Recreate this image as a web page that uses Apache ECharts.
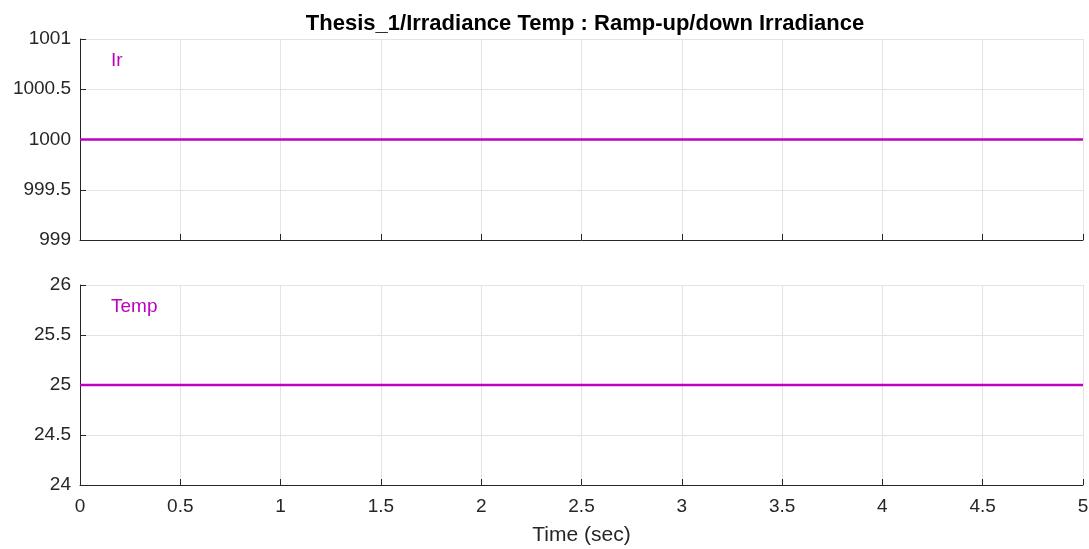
<!DOCTYPE html>
<html>
<head>
<meta charset="utf-8">
<script src="https://cdn.jsdelivr.net/npm/echarts@6/dist/echarts.min.js"></script>
<style>
html,body{margin:0;padding:0;background:#fff;}
#chart{width:1089px;height:549px;}
</style>
</head>
<body>
<div id="chart"></div>
<script>
const timeValues = [0, 5];
const irradiance = [1000, 1000];
const temperature = [25, 25];
const titleText = 'Thesis_1/Irradiance Temp : Ramp-up/down Irradiance';
const seriesNames = ['Ir', 'Temp'];
const xAxisName = 'Time (sec)';

const FONT = "'Liberation Sans', Arial, Helvetica, sans-serif";
const LINE = '#bf00bf';
const AX = '#262626';
const GRIDC = '#e3e3e3';

function fmt(v) { return String(Math.round(v * 10) / 10); }

function xAxis(idx, showLabel) {
  return {
    type: 'value', gridIndex: idx, min: 0, max: 5, interval: 0.5,
    axisLine: { show: true, onZero: false, lineStyle: { color: AX, width: 1 } },
    axisTick: { show: true, inside: true, length: 6, lineStyle: { color: AX } },
    axisLabel: { show: showLabel, color: AX, fontFamily: FONT, fontSize: 19, margin: 12, formatter: fmt },
    splitLine: { show: true, lineStyle: { color: GRIDC, width: 1 } },
    name: showLabel ? xAxisName : '',
    nameLocation: 'middle', nameGap: 40,
    nameTextStyle: { color: AX, fontFamily: FONT, fontSize: 21 }
  };
}
function yAxis(idx, mn, mx) {
  return {
    type: 'value', gridIndex: idx, min: mn, max: mx, interval: 0.5,
    axisLine: { show: true, onZero: false, lineStyle: { color: AX, width: 1 } },
    axisTick: { show: true, inside: true, length: 6, lineStyle: { color: AX } },
    axisLabel: { color: AX, fontFamily: FONT, fontSize: 19, margin: 9, formatter: fmt },
    splitLine: { show: true, lineStyle: { color: GRIDC, width: 1 } }
  };
}

const chart = echarts.init(document.getElementById('chart'), null, { renderer: 'canvas' });
chart.setOption({
  backgroundColor: '#fff',
  animation: false,
  title: {
    text: titleText, left: 580, top: 8, textAlign: 'center',
    textStyle: { fontFamily: FONT, fontSize: 22, fontWeight: 'bold', color: '#000' }
  },
  grid: [
    { left: 80, right: 6, top: 39, height: 201, containLabel: false, outerBoundsMode: 'none' },
    { left: 80, right: 6, top: 285, height: 200, containLabel: false, outerBoundsMode: 'none' }
  ],
  xAxis: [xAxis(0, false), xAxis(1, true)],
  yAxis: [yAxis(0, 999, 1001), yAxis(1, 24, 26)],
  series: [
    { type: 'line', name: seriesNames[0], xAxisIndex: 0, yAxisIndex: 0, showSymbol: false,
      data: timeValues.map((t, i) => [t, irradiance[i]]), lineStyle: { color: LINE, width: 2.5 } },
    { type: 'line', name: seriesNames[1], xAxisIndex: 1, yAxisIndex: 1, showSymbol: false,
      data: timeValues.map((t, i) => [t, temperature[i]]), lineStyle: { color: LINE, width: 2.5 } }
  ],
  graphic: [
    { type: 'text', left: 111, top: 51, style: { text: seriesNames[0], fill: LINE, font: '19px ' + FONT } },
    { type: 'text', left: 111, top: 297, style: { text: seriesNames[1], fill: LINE, font: '19px ' + FONT } }
  ]
});
</script>
</body>
</html>
